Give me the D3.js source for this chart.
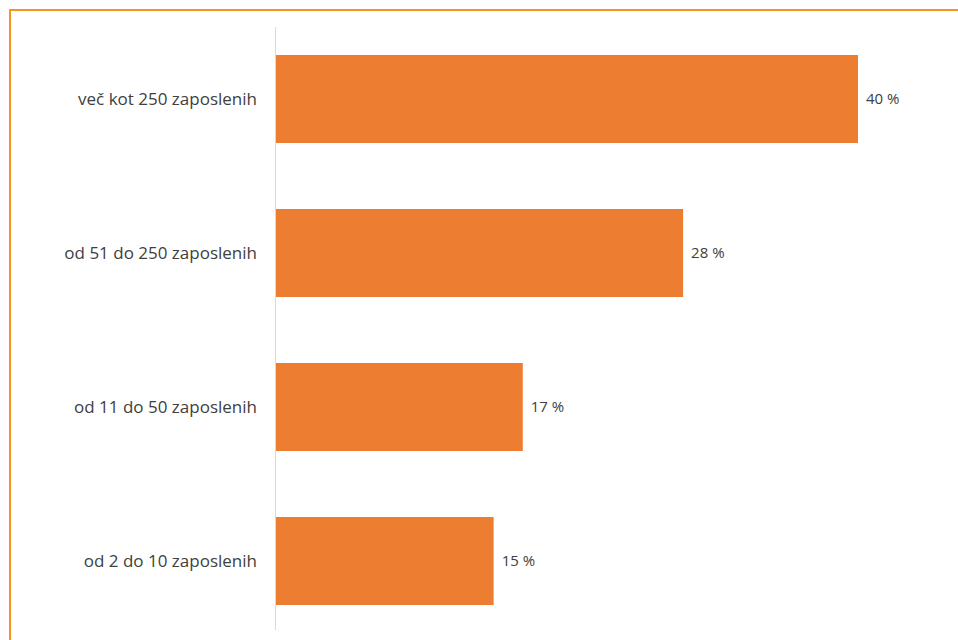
<!DOCTYPE html>
<html>
<head>
<meta charset="utf-8">
<script src="https://cdn.jsdelivr.net/npm/d3@7"></script>
<style>
  body { margin: 0; background: #fff; }
  svg { display: block; }
</style>
</head>
<body>
<div id="chart"></div>
<script>
// data
var categories = ['več kot 250 zaposlenih', 'od 51 do 250 zaposlenih', 'od 11 do 50 zaposlenih', 'od 2 do 10 zaposlenih'];
var values = [40, 28, 17, 15];

var width = 958, height = 640;
var axis_x = 275;

var svg = d3.select('#chart')
  .append('svg')
  .attr('width', width)
  .attr('height', height);

// orange frame, runs off the right and bottom edges
svg.append('rect')
  .attr('x', 10)
  .attr('y', 10)
  .attr('width', width + 20)
  .attr('height', height + 20)
  .attr('fill', 'none')
  .attr('stroke', '#F7941D')
  .attr('stroke-width', 2);

var x = d3.scaleLinear()
  .domain([0, 40])
  .range([axis_x, 858]);

var y = d3.scaleBand()
  .domain(categories)
  .range([22, 638])
  .paddingInner(0.4286)
  .paddingOuter(0.2143);

var data = categories.map(function(c, i) { return {key: c, value: values[i]}; });

svg.selectAll('.bar')
  .data(data)
  .enter()
  .append('rect')
  .attr('class', 'bar')
  .attr('x', x(0))
  .attr('y', function(d) { return y(d.key); })
  .attr('width', function(d) { return x(d.value) - x(0); })
  .attr('height', y.bandwidth())
  .attr('fill', '#ED7D31');

// vertical axis line
svg.append('line')
  .attr('x1', axis_x + 0.5)
  .attr('x2', axis_x + 0.5)
  .attr('y1', 27)
  .attr('y2', 630)
  .attr('stroke', '#D9D9D9')
  .attr('stroke-width', 1);

// category labels
svg.selectAll('.cat-label')
  .data(data)
  .enter()
  .append('text')
  .attr('class', 'cat-label')
  .attr('x', axis_x - 18)
  .attr('y', function(d) { return y(d.key) + y.bandwidth() / 2; })
  .attr('dy', '0.35em')
  .attr('text-anchor', 'end')
  .style('font-family', 'Open Sans, sans-serif')
  .style('font-size', '17px')
  .style('fill', '#404040')
  .text(function(d) { return d.key; });

// value labels
svg.selectAll('.val-label')
  .data(data)
  .enter()
  .append('text')
  .attr('class', 'val-label')
  .attr('x', function(d) { return x(d.value) + 8; })
  .attr('y', function(d) { return y(d.key) + y.bandwidth() / 2; })
  .attr('dy', '0.35em')
  .style('font-family', 'Open Sans, sans-serif')
  .style('font-size', '15px')
  .style('fill', '#404040')
  .text(function(d) { return d.value + ' %'; });
</script>
</body>
</html>
